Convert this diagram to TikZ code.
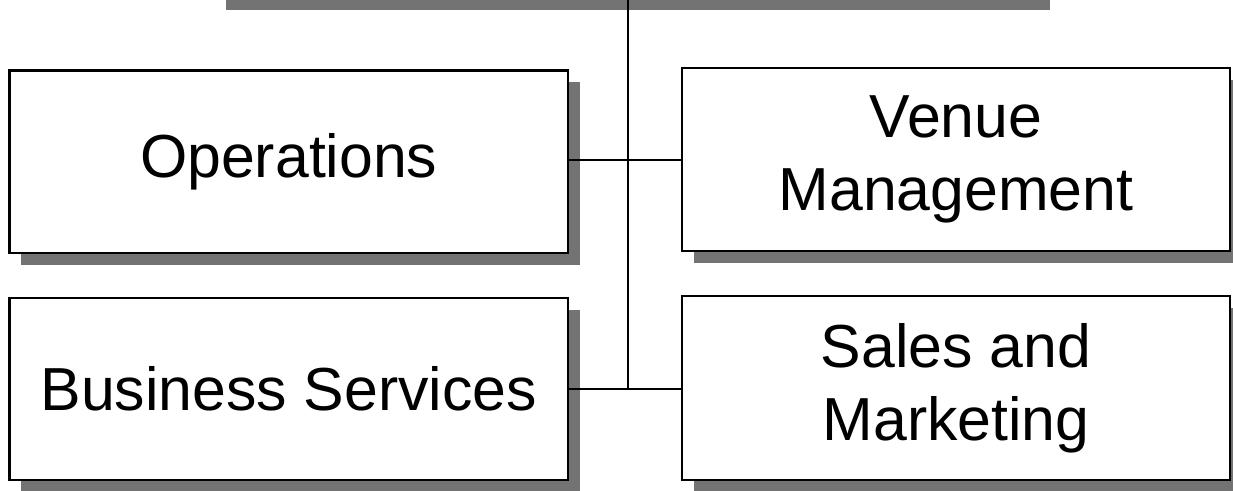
\documentclass[tikz,border=0pt]{standalone}
\usepackage{fontspec}
\setmainfont{Liberation Sans}
\usetikzlibrary{shadows}
\tikzset{
  orgbox/.style={draw=black, line width=2.5bp, fill=white, inner sep=0pt, align=center,
    font=\fontsize{61}{73}\selectfont,
    drop shadow={shadow xshift=12bp, shadow yshift=-12bp, fill=black!55, opacity=1}},
  link/.style={draw=black, line width=2bp},
  shade bar/.style={fill=black!55}
}
\begin{document}
\begin{tikzpicture}[x=1bp,y=-1bp]
\useasboundingbox (0,0) rectangle (1233,491);
\fill[white] (0,0) rectangle (1233,491);
% shadow of the cut-off box above
\fill[shade bar] (226,-5) rectangle (1050,10);
\coordinate (top) at (628,-2);
\coordinate (j1) at (628,160);
\coordinate (j2) at (628,389);
\node[orgbox, minimum width=558.5bp, minimum height=182.5bp] (ops) at (288.75,161.75) {Operations};
\node[orgbox, minimum width=548bp, minimum height=183bp] (venue) at (956,159.5) {Venue\\Management};
\node[orgbox, minimum width=558.5bp, minimum height=182bp] (bus) at (288.75,389) {Business Services};
\node[orgbox, minimum width=548bp, minimum height=184bp] (sales) at (956,388) {Sales and\\Marketing};
\draw[link] (top) -- (j2);
\draw[link] (ops.east |- j1) -- (venue.west |- j1);
\draw[link] (bus.east |- j2) -- (sales.west |- j2);
\end{tikzpicture}
\end{document}
